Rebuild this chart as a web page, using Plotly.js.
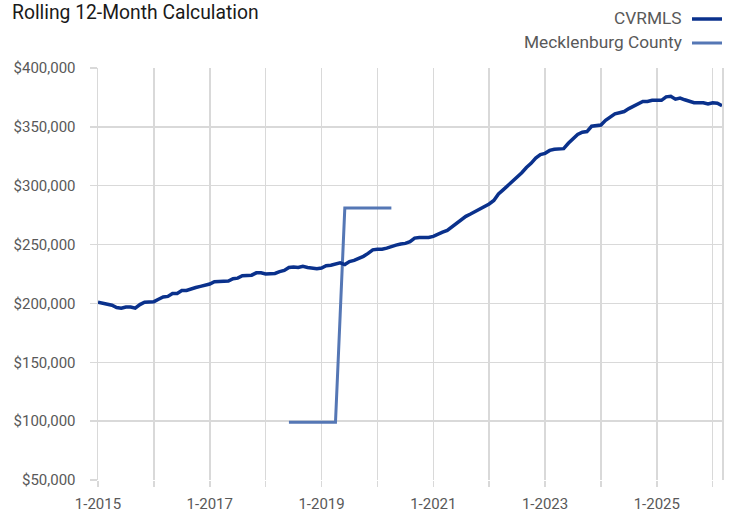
<!DOCTYPE html>
<html>
<head>
<meta charset="utf-8">
<script src="https://cdn.plot.ly/plotly-3.0.1.min.js"></script>
<style>html,body{margin:0;padding:0;background:#fff;}#chart{width:733px;height:515px;}</style>
</head>
<body>
<div id="chart"></div>
<script>
// Month categories: Jan 2015 .. Mar 2026
const months = [];
for (let y = 2015; y <= 2026; y++) {
  for (let m = 1; m <= 12; m++) {
    if (y === 2026 && m > 3) break;
    months.push(m + '-' + y);
  }
}

// CVRMLS rolling 12-month values (thousands of $)
const cvrmls = [
  201, 200, 199, 198.5, 196.5, 196, 197, 197, 196, 199, 201, 201,
  201.5, 203.5, 205.5, 206, 208.5, 208.5, 211, 211, 212.5, 213.5, 214.5, 215.5,
  216.5, 218.5, 218.5, 219, 219, 221, 221.5, 223.5, 223.5, 224, 226, 226,
  225, 225, 225.5, 227, 228, 230.5, 231, 230.5, 231.5, 230.5, 230, 229.5,
  230, 232, 232.5, 233.5, 234.5, 233, 235.5, 236.5, 238, 240, 242.5, 245.5,
  246, 246, 247, 248.5, 249.5, 250.5, 251, 252.5, 255.5, 256, 256, 256,
  257, 259, 260.5, 262, 265, 268.5, 271.5, 274, 276, 278, 280.5, 282,
  284.5, 287.5, 293, 296.5, 300, 304, 307.5, 311, 315.5, 319, 323.5, 326.5,
  327.5, 330, 331, 331, 331.5, 336, 340, 343.5, 345.5, 346, 350.5, 351,
  351.5, 355.5, 358, 361, 362, 363, 365.5, 367.5, 370, 371.5, 371.5, 372.5,
  372.5, 372.5, 375.5, 376, 373.5, 374.5, 373, 371.5, 370.5, 370.5, 370.5, 369.5,
  370.5, 370, 368
];

// Mecklenburg County values (thousands of $), null where no data
const mecklenburg = [
  null,null,null,null,null,null,null,null,null,null,null,null,
  null,null,null,null,null,null,null,null,null,null,null,null,
  null,null,null,null,null,null,null,null,null,null,null,null,
  null,null,null,null,null,99,99,99,99,99,99,99,
  99,99,99,99,190,281,281,281,281,281,281,281,
  281,281,281,281
];

const yTicks = [50000,100000,150000,200000,250000,300000,350000,400000];
const yTickLabels = ['$50,000','$100,000','$150,000','$200,000','$250,000','$300,000','$350,000','$400,000'];
const xTickYears = ['1-2015','1-2016','1-2017','1-2018','1-2019','1-2020','1-2021','1-2022','1-2023','1-2024','1-2025','1-2026'];
const xTickLabels = ['1-2015','','1-2017','','1-2019','','1-2021','','1-2023','','1-2025',''];

const seriesNames = ['CVRMLS', 'Mecklenburg County'];
const colors = ['#0A318C', '#5577B5'];

const traces = [
  {
    x: months.slice(0, mecklenburg.length),
    y: mecklenburg.map(v => v === null ? null : v * 1000),
    type: 'scatter', mode: 'lines', name: seriesNames[1],
    line: {color: colors[1], width: 3},
    connectgaps: false, hoverinfo: 'skip'
  },
  {
    x: months,
    y: cvrmls.map(v => v * 1000),
    type: 'scatter', mode: 'lines', name: seriesNames[0],
    line: {color: colors[0], width: 3.5},
    hoverinfo: 'skip'
  }
];

const gridC = '#d9d9d9';
const fam = 'Roboto, "Liberation Sans", sans-serif';
const layout = {
  width: 733, height: 515,
  margin: {l: 98, r: 11, t: 68, b: 35, pad: 0},
  paper_bgcolor: '#ffffff', plot_bgcolor: '#ffffff',
  showlegend: false,
  font: {family: fam, color: '#595959', size: 15},
  title: {
    text: 'Rolling 12-Month Calculation',
    font: {family: fam, size: 19.3, color: '#1a1a1a'},
    x: 12/733, xanchor: 'left', xref: 'container',
    y: 1 - 12/515, yanchor: 'middle', yref: 'container'
  },
  xaxis: {
    type: 'category',
    categoryorder: 'array', categoryarray: months,
    range: [0, months.length - 1],
    tickmode: 'array', tickvals: xTickYears, ticktext: xTickLabels,
    showgrid: true, gridcolor: gridC, gridwidth: 1.5,
    ticks: 'outside', ticklen: 6, tickcolor: gridC, tickwidth: 1.5,
    ticklabelstandoff: 4,
    showline: false, zeroline: false,
    tickfont: {family: fam, size: 15, color: '#595959'}
  },
  yaxis: {
    range: [50000, 400000],
    tickmode: 'array', tickvals: yTicks, ticktext: yTickLabels,
    showgrid: true, gridcolor: gridC, gridwidth: 1.5,
    ticks: 'outside', ticklen: 7, tickcolor: gridC, tickwidth: 1.5,
    ticklabelstandoff: 11,
    showline: true, mirror: true, linecolor: gridC, linewidth: 1.5,
    zeroline: false,
    tickfont: {family: fam, size: 15, color: '#595959'}
  },
  shapes: [
    {type: 'line', xref: 'paper', yref: 'paper', x0: (692-98)/624, x1: (722-98)/624,
     y0: 1 + (68-19)/412, y1: 1 + (68-19)/412, line: {color: colors[0], width: 3.5}},
    {type: 'line', xref: 'paper', yref: 'paper', x0: (692-98)/624, x1: (722-98)/624,
     y0: 1 + (68-43)/412, y1: 1 + (68-43)/412, line: {color: colors[1], width: 3}}
  ],
  annotations: [
    {text: seriesNames[0], xref: 'paper', yref: 'paper', x: (684-98)/624, y: 1 + (68-18)/412,
     xanchor: 'right', yanchor: 'middle', showarrow: false, font: {family: fam, size: 17.3, color: '#595959'}},
    {text: seriesNames[1], xref: 'paper', yref: 'paper', x: (684-98)/624, y: 1 + (68-42)/412,
     xanchor: 'right', yanchor: 'middle', showarrow: false, font: {family: fam, size: 17.3, color: '#595959'}}
  ]
};

Plotly.newPlot('chart', traces, layout, {displayModeBar: false, staticPlot: true});
</script>
</body>
</html>
